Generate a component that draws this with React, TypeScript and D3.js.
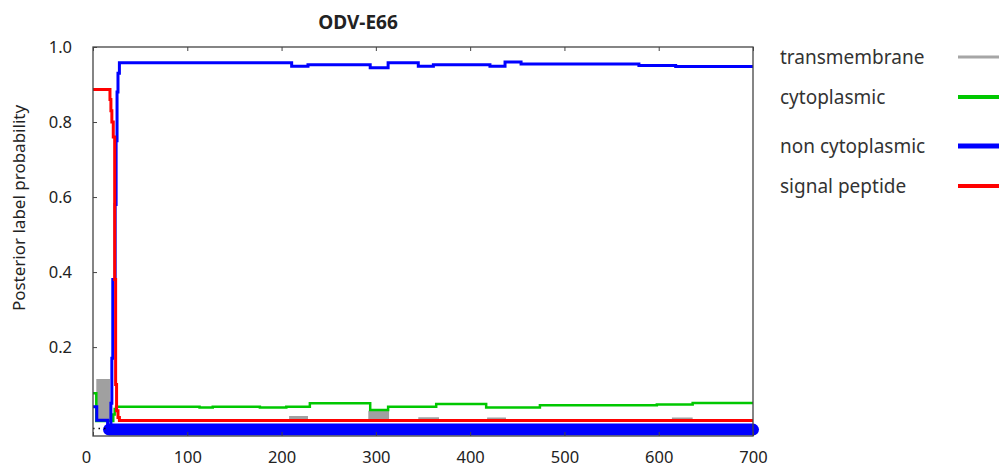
import * as d3 from "d3";
import { useEffect, useRef } from "react";

// sequence position / posterior probability
const signalPos = [0, 17, 18, 19, 20, 21.5, 23, 24, 25, 26.5, 28, 700];
const signalVal = [0.887, 0.887, 0.86, 0.83, 0.8, 0.76, 0.38, 0.1, 0.03, 0.012, 0.004, 0.004];

const nonCytoPos = [0, 4, 15.5, 19, 20, 21, 23.5, 24.5, 25.5, 26.5, 28, 210.7, 228, 294, 313, 345, 361, 421, 437, 454, 579, 618, 700];
const nonCytoVal = [0.041, 0.005, -0.012, 0.05, 0.17, 0.38, 0.58, 0.75, 0.88, 0.93, 0.958, 0.949, 0.953, 0.945, 0.958, 0.949, 0.953, 0.949, 0.96, 0.955, 0.951, 0.948, 0.948];

const cytoPos = [0, 3.5, 18, 21.5, 23, 24.5, 113, 127, 177, 205, 230, 294, 313, 364, 417, 474, 598, 636, 700];
const cytoVal = [0.077, 0.003, 0.003, 0.02, 0.035, 0.041, 0.039, 0.041, 0.039, 0.041, 0.05, 0.032, 0.041, 0.048, 0.039, 0.045, 0.047, 0.051, 0.051];

const tmPos = [0, 3.5, 18, 175, 200, 208, 228, 292, 314, 345, 367, 418, 438, 452, 476, 578, 598, 614, 636, 700];
const tmVal = [0, 0.115, 0, 0.008, 0, 0.016, 0, 0.03, 0, 0.013, 0, 0.012, 0, 0.008, 0, 0.008, 0, 0.012, 0, 0];

// predicted topology along the bottom
const cytoRegion = [0, 15];
const nonCytoRegion = [17, 700];
const topologyLevel = -0.02;

const xTicks = [0, 100, 200, 300, 400, 500, 600, 700];
const yTicks = [0.2, 0.4, 0.6, 0.8, 1.0];

const legendLabels = ["transmembrane", "cytoplasmic", "non cytoplasmic", "signal peptide"];
const legendColors = ["#a6a6a6", "#00c800", "#0000ff", "#ff0000"];
const legendWidths = [3, 4, 5, 4];

const FONT = "'Noto Sans', sans-serif";

const App = () => {
  const ref = useRef(null);

  useEffect(() => {
    const svg = d3.select(ref.current);
    svg.selectAll("*").remove();

    const x = d3.scaleLinear().domain([0, 700]).range([93, 753]);
    const y = d3.scaleLinear().domain([-0.037, 1]).range([436, 47]);

    const pts = (p, v) => p.map((d, i) => [d, v[i]]);
    const line = d3.line().x(d => x(d[0])).y(d => y(d[1])).curve(d3.curveStepAfter);

    // title
    svg.append("text")
      .attr("x", 358).attr("y", 29)
      .attr("text-anchor", "middle")
      .style("font-family", FONT).style("font-size", "19px").style("font-weight", "bold")
      .attr("fill", "#222")
      .text("ODV-E66");

    // y axis title
    svg.append("text")
      .attr("transform", "translate(25,208) rotate(-90)")
      .attr("text-anchor", "middle")
      .style("font-family", FONT).style("font-size", "17px")
      .attr("fill", "#222")
      .text("Posterior label probability");

    // transmembrane area
    const area = d3.area().x(d => x(d[0])).y0(y(0)).y1(d => y(d[1])).curve(d3.curveStepAfter);
    svg.append("path").datum(pts(tmPos, tmVal)).attr("d", area).attr("fill", "#a0a0a0");

    svg.append("path").datum(pts(cytoPos, cytoVal)).attr("d", line)
      .attr("fill", "none").attr("stroke", "#00c800").attr("stroke-width", 2.5);
    svg.append("path").datum(pts(nonCytoPos, nonCytoVal)).attr("d", line)
      .attr("fill", "none").attr("stroke", "#0000ff").attr("stroke-width", 3);
    svg.append("path").datum(pts(signalPos, signalVal)).attr("d", line)
      .attr("fill", "none").attr("stroke", "#ff0000").attr("stroke-width", 3);

    // topology
    svg.append("line")
      .attr("x1", x(nonCytoRegion[0])).attr("x2", x(nonCytoRegion[1]))
      .attr("y1", y(topologyLevel)).attr("y2", y(topologyLevel))
      .attr("stroke", "#0000ff").attr("stroke-width", 12).attr("stroke-linecap", "round");
    svg.append("line")
      .attr("x1", x(cytoRegion[0])).attr("x2", x(cytoRegion[1]))
      .attr("y1", y(topologyLevel) - 1).attr("y2", y(topologyLevel) - 1)
      .attr("stroke", "#000").attr("stroke-width", 1.5).attr("stroke-dasharray", "1.5,4");

    // frame
    svg.append("rect")
      .attr("x", 93).attr("y", 47).attr("width", 660).attr("height", 389)
      .attr("fill", "none").attr("stroke", "#444").attr("stroke-width", 1.3);

    const left = svg.append("g").attr("transform", "translate(93,0)")
      .call(d3.axisLeft(y).tickValues(yTicks).tickSize(-4).tickPadding(21).tickFormat(d3.format(".1f")));
    const bottom = svg.append("g").attr("transform", "translate(0,436)")
      .call(d3.axisBottom(x).tickValues(xTicks).tickSize(-4).tickPadding(15));
    const top = svg.append("g").attr("transform", "translate(0,47)")
      .call(d3.axisTop(x).tickValues(xTicks).tickSize(-4).tickFormat(() => ""));
    [left, bottom, top].forEach(g => {
      g.select(".domain").remove();
      g.selectAll("line").attr("stroke", "#444");
      g.selectAll("text")
        .style("font-family", FONT).style("font-size", "16.5px").attr("fill", "#222");
    });
    bottom.selectAll("text").filter(d => d === 0).attr("dx", -7);

    // legend
    const lg = svg.append("g");
    legendLabels.forEach((lab, i) => {
      const ly = [57, 97, 146, 186][i];
      lg.append("text")
        .attr("x", 780).attr("y", ly + 7)
        .style("font-family", FONT).style("font-size", "19px")
        .attr("fill", "#333")
        .text(lab);
      lg.append("line")
        .attr("x1", 958).attr("x2", 1000).attr("y1", ly).attr("y2", ly)
        .attr("stroke", legendColors[i]).attr("stroke-width", legendWidths[i]);
    });
  }, []);

  return (
    <div style={{ position: "absolute", left: 0, top: 0 }}>
      <svg ref={ref} width="999" height="468" style={{ display: "block", background: "#fff" }}></svg>
    </div>
  );
};

export default App;
